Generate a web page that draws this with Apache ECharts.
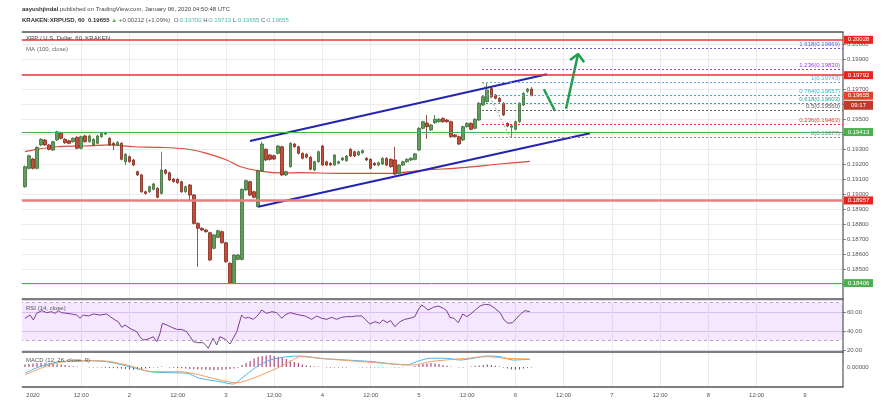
<!DOCTYPE html>
<html><head><meta charset="utf-8">
<script src="https://cdn.jsdelivr.net/npm/echarts@6/dist/echarts.min.js"></script>
<style>html,body{margin:0;padding:0;background:#fff}#c{width:895px;height:400px}</style>
</head><body><div id="c"></div>
<script>
// ---------- DATA ----------
const startHour = -2; // first hourly candle: Dec 31 22:00 (hours since Jan 1 00:00)
// [open, high, low, close]
const candles = [
[0.19049,0.19189,0.19042,0.19182],[0.19171,0.19262,0.19164,0.19255],[0.19233,0.19240,0.19164,0.19171],[0.19171,0.19318,0.19164,0.19311],
[0.19327,0.19372,0.19320,0.19365],[0.19360,0.19367,0.19320,0.19327],[0.19327,0.19334,0.19291,0.19298],[0.19293,0.19356,0.19286,0.19349],
[0.19360,0.19422,0.19353,0.19415],[0.19408,0.19415,0.19364,0.19371],[0.19365,0.19372,0.19335,0.19342],[0.19355,0.19362,0.19331,0.19338],
[0.19349,0.19378,0.19342,0.19371],[0.19378,0.19385,0.19298,0.19305],[0.19305,0.19389,0.19298,0.19382],[0.19387,0.19394,0.19342,0.19349],
[0.19349,0.19394,0.19342,0.19387],[0.19327,0.19372,0.19320,0.19365],[0.19338,0.19394,0.19331,0.19387],[0.19382,0.19413,0.19375,0.19405],
[0.19400,0.19416,0.19393,0.19409],[0.19371,0.19378,0.19320,0.19327],[0.19338,0.19345,0.19293,0.19327],[0.19327,0.19352,0.19320,0.19345],
[0.19338,0.19345,0.19224,0.19231],[0.19215,0.19272,0.19193,0.19265],[0.19249,0.19256,0.19208,0.19215],[0.19227,0.19234,0.19186,0.19193],
[0.19149,0.19156,0.19120,0.19127],[0.19127,0.19134,0.19008,0.19015],[0.19015,0.19022,0.18995,0.19004],[0.19015,0.19056,0.19008,0.19049],
[0.19031,0.19074,0.19024,0.19067],[0.19038,0.19045,0.18971,0.18978],[0.19004,0.19282,0.18997,0.19160],[0.19160,0.19167,0.19131,0.19138],
[0.19142,0.19149,0.19086,0.19093],[0.19100,0.19107,0.19075,0.19082],[0.19098,0.19105,0.19068,0.19075],[0.19082,0.19089,0.19008,0.19015],
[0.19015,0.19056,0.19008,0.19049],[0.19060,0.19067,0.18960,0.18993],[0.18993,0.19000,0.18797,0.18804],[0.18804,0.18811,0.18515,0.18771],
[0.18771,0.18778,0.18753,0.18760],[0.18760,0.18767,0.18742,0.18749],[0.18742,0.18749,0.18553,0.18560],[0.18638,0.18734,0.18631,0.18727],
[0.18711,0.18762,0.18704,0.18755],[0.18749,0.18756,0.18668,0.18675],[0.18675,0.18682,0.18542,0.18549],[0.18538,0.18545,0.18404,0.18404],
[0.18404,0.18600,0.18404,0.18593],[0.18564,0.18600,0.18557,0.18593],[0.18564,0.19038,0.18557,0.19031],[0.19027,0.19096,0.19020,0.19089],
[0.19082,0.19089,0.18986,0.18993],[0.19015,0.19022,0.18971,0.18978],[0.18915,0.19162,0.18915,0.19155],[0.19155,0.19349,0.19148,0.19333],
[0.19298,0.19305,0.19220,0.19227],[0.19260,0.19267,0.19224,0.19231],[0.19255,0.19262,0.19226,0.19233],[0.19271,0.19327,0.19264,0.19320],
[0.19315,0.19322,0.19120,0.19127],[0.19127,0.19156,0.19120,0.19149],[0.19182,0.19345,0.19175,0.19338],[0.19333,0.19340,0.19308,0.19315],
[0.19315,0.19322,0.19264,0.19271],[0.19271,0.19278,0.19231,0.19238],[0.19265,0.19272,0.19238,0.19245],[0.19245,0.19252,0.19158,0.19165],
[0.19160,0.19222,0.19153,0.19215],[0.19215,0.19289,0.19208,0.19282],[0.19320,0.19327,0.19186,0.19193],[0.19215,0.19222,0.19186,0.19193],
[0.19205,0.19212,0.19186,0.19193],[0.19193,0.19267,0.19186,0.19260],[0.19205,0.19222,0.19198,0.19215],[0.19227,0.19247,0.19220,0.19240],
[0.19222,0.19260,0.19215,0.19253],[0.19298,0.19305,0.19246,0.19253],[0.19282,0.19289,0.19246,0.19253],[0.19260,0.19289,0.19253,0.19282],
[0.19275,0.19296,0.19268,0.19289],[0.19238,0.19245,0.19220,0.19227],[0.19231,0.19238,0.19164,0.19171],[0.19205,0.19212,0.19186,0.19193],
[0.19193,0.19216,0.19186,0.19209],[0.19200,0.19245,0.19193,0.19238],[0.19238,0.19245,0.19186,0.19193],[0.19231,0.19238,0.19175,0.19182],
[0.19227,0.19315,0.19126,0.19133],[0.19138,0.19200,0.19131,0.19193],[0.19193,0.19222,0.19186,0.19215],[0.19215,0.19238,0.19208,0.19231],
[0.19227,0.19245,0.19220,0.19238],[0.19231,0.19274,0.19224,0.19267],[0.19293,0.19445,0.19286,0.19438],[0.19438,0.19489,0.19431,0.19482],
[0.19473,0.19527,0.19367,0.19449],[0.19427,0.19467,0.19420,0.19460],[0.19475,0.19527,0.19468,0.19498],[0.19482,0.19505,0.19475,0.19498],
[0.19504,0.19511,0.19475,0.19482],[0.19493,0.19500,0.19475,0.19482],[0.19482,0.19489,0.19375,0.19382],[0.19393,0.19400,0.19375,0.19382],
[0.19382,0.19389,0.19326,0.19333],[0.19360,0.19456,0.19353,0.19449],[0.19449,0.19478,0.19442,0.19471],[0.19471,0.19478,0.19424,0.19431],
[0.19438,0.19505,0.19431,0.19498],[0.19493,0.19612,0.19486,0.19605],[0.19593,0.19656,0.19586,0.19649],[0.19616,0.19743,0.19609,0.19693],
[0.19704,0.19711,0.19642,0.19649],[0.19660,0.19667,0.19631,0.19638],[0.19638,0.19645,0.19609,0.19616],[0.19605,0.19612,0.19520,0.19527],
[0.19471,0.19478,0.19446,0.19453],[0.19445,0.19462,0.19377,0.19455],[0.19431,0.19489,0.19424,0.19482],[0.19482,0.19612,0.19475,0.19605],
[0.19593,0.19678,0.19586,0.19671],[0.19685,0.19707,0.19671,0.19700],[0.19700,0.19713,0.19655,0.19655]
];
// MA(100) read at [hour, price]
const maPoints = [[-2,0.19282],[0.9,0.19298],[5.9,0.19315],[12.4,0.1932],[19.2,0.19327],[24.9,0.19315],[31.6,0.19311],[38.2,0.193],
[43.2,0.19271],[48.2,0.19227],[51.5,0.19183],[56.5,0.19153],[62.2,0.1914],[66.4,0.19142],[76.4,0.19138],[89.6,0.19138],[95.4,0.19155],
[107.9,0.19178],[116.1,0.192],[123.6,0.19217]];
// RSI(14) read at [hour, value]
const rsiPoints = [[-2,53.4],[-0.75,56.8],[0.1,51.6],[0.9,58.6],[2.2,61.4],[3.4,59.3],[4.6,60.3],[5.5,58.6],[6.3,61.4],[7.1,59.3],[8.4,58.6],
[9.6,57.9],[10.9,56.8],[11.7,53.4],[12.5,56.8],[13.8,55.8],[15,57.9],[16.7,56.8],[18.3,57.9],[19.2,55.1],[20.4,51.6],[21.2,49.8],[22.1,43.9],
[22.9,46.3],[24.1,42.8],[25.8,39.3],[26.6,34],[27.4,30.5],[28.3,31.2],[29.1,32.3],[29.9,34],[30.8,28.7],[31.6,37.6],[32.2,48.1],[33.3,46.3],
[34.5,43.9],[35.7,41.7],[37,41.7],[38.2,39.3],[39.1,34],[39.9,28.7],[41.1,27.7],[42.4,27.7],[43.6,21.8],[44.8,32.3],[45.7,25.3],[46.5,34],
[47.9,31.2],[49,26.3],[49.8,32.3],[50.7,39.3],[51.1,37.6],[51.9,56.8],[52.7,53.4],[53.6,54.4],[54.8,52.3],[56,56.8],[56.9,62.1],[58.1,58.6],
[59.4,60.3],[60.6,59.3],[61.9,53.4],[62.7,56.8],[63.9,59.3],[65.2,57.9],[66.4,56.8],[67.7,55.8],[69.3,52.3],[70.6,55.8],[71.8,53.4],[73.1,52.3],
[74.3,54.4],[75.5,52.3],[76.8,54.4],[78,55.1],[79.3,55.1],[80.5,55.8],[81.8,55.8],[82.8,51.6],[83.8,47.4],[85.1,49.8],[86.2,48.1],[87.1,51.6],
[88.1,48.8],[89,50.9],[90,44.6],[91.3,49.8],[92.5,52.3],[93.8,53.4],[95,55.1],[95.8,62.1],[96.7,67.4],[97.5,64.9],[98.3,62.1],[99.6,64.9],
[100.8,66.3],[102.1,63.9],[102.9,61.4],[103.7,54.4],[104.7,53.4],[105.8,48.8],[106.9,57.9],[107.9,55.1],[108.9,57.9],[110,62.1],[111.2,66.3],
[112.4,68.1],[113.7,67.4],[114.9,63.9],[116.2,59.3],[117.2,51.6],[118.2,48.1],[119.3,48.8],[120.3,53.4],[121.3,57.9],[122.4,61.4],[123.6,60.3]];
// MACD(12,26,9) read at [hour, value]
const macdPoints = [[-2,-0.000315],[1.7,0.000015],[6.7,0.000265],[12.4,0.000315],[18.4,0.000265],[23.4,0.00005],[29.1,-0.000235],[34.1,-0.000285],
[38.3,-0.000315],[41.5,-0.000565],[46.5,-0.000735],[49.8,-0.00085],[52.2,-0.000515],[55.7,0.000015],[59,0.00035],[63.2,0.000515],[66.4,0.00055],
[71.4,0.000435],[78,0.00035],[84.6,0.000265],[89.6,0.00015],[93,0.0001],[95.4,0.000265],[98.8,0.000435],[102.9,0.000435],[106.2,0.00035],
[109.5,0.000435],[112.9,0.00055],[116.2,0.000515],[119.4,0.00035],[123.6,0.000385]];
const signalPoints = [[-2,-0.0004],[4.2,0.0001],[10,0.000315],[16.7,0.000315],[23.4,0.0001],[29.9,-0.000235],[36.6,-0.000235],[41.5,-0.0004],
[46.5,-0.00065],[50.7,-0.000785],[54.7,-0.000565],[59.7,-0.00015],[64.7,0.00035],[66.4,0.000515],[73.9,0.000385],[82.1,0.000265],[89.6,0.00015],
[94.5,0.0001],[98.8,0.000265],[104.5,0.000385],[107.9,0.000435],[112.9,0.000515],[117.8,0.000435],[123.6,0.0004]];
// hourly histogram, same hours as candles
const histValues = [0.00012,0.00015,0.00018,0.0002,0.0002,
0.0002,0.00018,0.00016,0.00014,0.00012,0.0001,
0.00006,0.00004,0.00002,0,0,-0.00002,-0.00002,-0.00003,-0.00003,-0.00004,-0.00005,-0.00005,
-0.00006,-0.00008,-0.0001,-0.00012,-0.00014,-0.00012,-0.0001,-0.00008,-0.00005,-0.00003,-0.00002,
0.00002,0,-0.00002,-0.00004,-0.00005,-0.00006,-0.00008,-0.0001,
-0.00011,-0.00012,-0.00013,-0.00014,-0.00015,-0.00016,-0.00015,-0.00014,-0.00012,-0.0001,-0.00007,-0.00004,
0.0001,0.0002,0.0003,0.00042,0.0005,0.00055,0.00058,0.0006,0.00055,0.0005,0.00045,0.0004,0.00032,0.00025,0.0002,
0.00012,0.00008,0.00005,0.00003,0.00002,0,-0.00002,-0.00002,-0.00003,-0.00003,-0.00002,-0.00002,-0.00001,0,-0.00001,-0.00002,-0.00002,-0.00003,-0.00003,-0.00002,-0.00002,-0.00001,-0.00001,-0.00002,-0.00002,-0.00001,0,0,
0.00005,0.0001,0.00015,0.00018,0.0002,0.00018,0.00015,0.0001,0.00006,0.00003,0,-0.00002,-0.00003,
0,0.00003,0.00006,0.00008,0.0001,0.00012,0.0001,
0.00006,0.00002,-0.00003,-0.00008,-0.00012,-0.00014,-0.00012,-0.00008,-0.00004,-0.00002];
const tickLabels = ["2020","12:00","2","12:00","3","12:00","4","12:00","5","12:00","6","12:00","7","12:00","8","12:00","9"];
// horizontal levels with price tags
const hLevels = [
  {price:0.20028, color:'#e53935', width:1.5, tag:'#e8241f'},
  {price:0.19792, color:'#e53935', width:1.5, tag:'#e8241f'},
  {price:0.18957, color:'#e88080', width:2.5, tag:'#e8241f'},
  {price:0.19413, color:'#4caf50', width:1, tag:'#4caf50'},
  {price:0.18406, color:'#4caf50', width:1, tag:'#4caf50'}
];
const lastPrice = 0.19655, countdown = '09:17';
// fib retracement: [ratio, price, colour]
const fibStartHour = 111.7;
const fibLevels = [[1.618,0.19969,'#5b5bd6'],[1.236,0.19830,'#9c42c8'],[1,0.19743,'#64a8e8'],[0.764,0.19657,'#2fb5c9'],
  [0.618,0.19603,'#26a69a'],[0.5,0.19560,'#606060'],[0.236,0.19463,'#e53935'],[0,0.19377,'#8a8a8a']];
const fibTrend = [[111.9,0.19743],[118.7,0.19377]];
const channelUpper = [[53.98,0.193533],[127.86,0.19798]];
const channelLower = [[56.04,0.189153],[138.56,0.194047]];
const arrowDown = [[127.1,0.19698],[129.85,0.19553]];
const arrowUp = [[132.6,0.19569],[135.6,0.19933]];
const arrowHead = [[133.6,0.19893],[135.6,0.19933],[137.1,0.19878]];

// ---------- CHART ----------
const X_MIN = -3.23, X_MAX = 201.5;
const tickHours = tickLabels.map((_, i) => i * 12);
const FONT = 'Liberation Sans, Arial, sans-serif';
const chart = echarts.init(document.getElementById('c'));

function xAx(grid, opts) {
  return Object.assign({
    type:'value', gridIndex:grid, min:X_MIN, max:X_MAX,
    axisLine:{show:true, onZero:false, lineStyle:{color:'#555', width:1.5}},
    axisTick:{show:false, customValues:tickHours},
    axisLabel:{show:false, customValues:tickHours},
    splitLine:{show:true, showMinLine:false, showMaxLine:false, lineStyle:{color:'#ececec', width:1}}
  }, opts);
}

const candleData = candles.map((c, i) => [startHour + i, c[0], c[3], c[2], c[1]]);
const histData = histValues.map((v, i) => [startHour + i, v]);

const hLineMarks = hLevels.map(l => [
  {coord:[X_MIN, l.price], lineStyle:{color:l.color, width:l.width, type:'solid'}, label:{show:false}},
  {coord:[X_MAX, l.price]}
]);
const fibMarks = fibLevels.map(f => [
  {coord:[fibStartHour, f[1]], lineStyle:{color:f[2], type:[2,2], width:1},
   label:{show:true, position:'insideEndTop', distance:[3,1], formatter:f[0] + '(' + f[1].toFixed(5) + ')', color:f[2], fontSize:6, fontFamily:FONT}},
  {coord:[X_MAX, f[1]]}
]);
const tagMarks = hLevels.map(l => ({
  coord:[X_MAX, l.price], symbol:'rect', symbolSize:[29,8], symbolOffset:[15.5,0],
  itemStyle:{color:l.tag},
  label:{show:true, position:'inside', formatter:l.price.toFixed(5), color:'#fff', fontSize:6, fontFamily:FONT}
}));
tagMarks.push({coord:[X_MAX, lastPrice], symbol:'rect', symbolSize:[29,8], symbolOffset:[15.5,0], itemStyle:{color:'#e0452b'},
  label:{show:true, position:'inside', formatter:lastPrice.toFixed(5), color:'#fff', fontSize:6, fontFamily:FONT}});
tagMarks.push({coord:[X_MAX, lastPrice], symbol:'rect', symbolSize:[29,9], symbolOffset:[15.5,9.5], itemStyle:{color:'#c0392b'},
  label:{show:true, position:'inside', formatter:countdown, color:'#fff', fontSize:6, fontFamily:FONT}});

function seg(data, color, width, dash, grid) {
  return {type:'line', xAxisIndex:grid||0, yAxisIndex:grid||0, data, showSymbol:false, symbol:'none', silent:true,
    lineStyle:{color, width, type:dash||'solid'}, z:4};
}
const yLine = {show:false, onZero:false};
const gridBase = {left:20, right:52, show:false, borderWidth:0, containLabel:false};

const option = {
  animation:false,
  textStyle:{fontFamily:FONT},
  graphic:[
    {type:'line', shape:{x1:843, y1:32, x2:843, y2:387}, style:{stroke:'#555', lineWidth:1.2}, z:5},
    {type:'rect', shape:{x:0, y:28, width:21.8, height:364}, style:{fill:'#fff'}, z:100}
  ],
  title:[
    {text:'{b|aayushjindal} published on TradingView.com, January 06, 2020 04:50:48 UTC', left:22, top:6, padding:0,
     textStyle:{fontSize:6, color:'#444', fontWeight:'normal', rich:{b:{fontSize:6, fontWeight:'bold', color:'#333'}}}},
    {text:'{b|KRAKEN:XRPUSD, 60  0.19655} {g|▲} +0.00212 (+1.09%)  O:{t|0.19700} H:{t|0.19713} L:{t|0.19655} C:{t|0.19655}', left:22, top:17, padding:0,
     textStyle:{fontSize:6, color:'#555', fontWeight:'normal', rich:{b:{fontSize:6, fontWeight:'bold', color:'#333'}, g:{fontSize:6, color:'#4caf50'}, t:{fontSize:6, color:'#4db6ac'}}}},
    {text:'XRP / U.S. Dollar, 60, KRAKEN', left:26, top:35, padding:0, textStyle:{fontSize:6, color:'#444', fontWeight:'normal'}},
    {text:'MA (100, close)', left:26, top:46, padding:0, textStyle:{fontSize:6, color:'#666', fontWeight:'normal'}},
    {text:'RSI (14, close)', left:26, top:305, padding:0, textStyle:{fontSize:6, color:'#555', fontWeight:'normal'}},
    {text:'MACD (12, 26, close, 9)', left:26, top:357, padding:0, textStyle:{fontSize:6, color:'#555', fontWeight:'normal'}}
  ],
  grid:[
    Object.assign({top:32, height:267}, gridBase),
    Object.assign({top:300, height:50}, gridBase),
    Object.assign({top:352, height:35}, gridBase)
  ],
  xAxis:[
    xAx(0, {}),
    xAx(1, {offset:2}),
    xAx(2, {axisLabel:{show:true, customValues:tickHours, fontSize:6, color:'#555', margin:5,
      formatter:v => tickLabels[Math.round(v / 12)] || ''}}),
    xAx(0, {position:'top', splitLine:{show:false}})
  ],
  yAxis:[
    {type:'value', gridIndex:0, position:'right', min:0.183, max:0.2008, interval:0.001,
     axisLine:yLine, axisTick:{show:true, length:3, lineStyle:{color:'#888'}},
     axisLabel:{fontSize:6, color:'#555', margin:4, showMinLabel:false, showMaxLabel:false, formatter:v => v.toFixed(5)},
     splitLine:{lineStyle:{color:'#ececec'}}},
    {type:'value', gridIndex:1, position:'right', min:20, max:72.63, interval:20,
     axisLine:yLine, axisTick:{show:true, length:3, lineStyle:{color:'#888'}},
     axisLabel:{fontSize:6, color:'#555', margin:4, showMinLabel:true, showMaxLabel:false, formatter:v => v.toFixed(2)},
     splitLine:{lineStyle:{color:'#e2d2ef'}}},
    {type:'value', gridIndex:2, position:'right', min:-0.001, max:0.00075, interval:0.0005,
     axisLine:yLine, axisTick:{show:false},
     axisLabel:{fontSize:6, color:'#555', margin:4, formatter:v => Math.abs(v) < 1e-9 ? '0.00000' : ''},
     splitLine:{show:false}}
  ],
  series:[
    {type:'candlestick', xAxisIndex:0, yAxisIndex:0, data:candleData, barWidth:3, z:3,
     itemStyle:{color:'#5f9f5a', color0:'#c94a35', borderColor:'#3d6b38', borderColor0:'#7c2b1f', borderWidth:0.8}},
    {type:'line', xAxisIndex:0, yAxisIndex:0, data:maPoints, showSymbol:false, symbol:'none', smooth:0.3, silent:true,
     lineStyle:{color:'#e0463a', width:1.2}, z:2,
     markLine:{silent:true, symbol:['none','none'], animation:false, data:hLineMarks.concat(fibMarks)},
     markPoint:{silent:true, animation:false, data:tagMarks, z:10}},
    seg(fibTrend, '#9a9a9a', 1, [2,2]),
    seg(channelUpper, '#2424b0', 2),
    seg(channelLower, '#2424b0', 2),
    seg(arrowDown, '#1f9e4e', 2.5),
    seg(arrowUp, '#1f9e4e', 2.5),
    seg(arrowHead, '#1f9e4e', 2.5),
    {type:'line', xAxisIndex:1, yAxisIndex:1, data:rsiPoints, showSymbol:false, symbol:'none', silent:true,
     lineStyle:{color:'#7b3f8c', width:1}, z:4,
     markArea:{silent:true, itemStyle:{color:'rgba(153,21,255,0.10)'}, data:[[{yAxis:70},{yAxis:30}]]},
     markLine:{silent:true, symbol:['none','none'], label:{show:false}, lineStyle:{color:'#b8a8c4', type:[3,3], width:1},
       data:[{yAxis:70},{yAxis:30}]}},
    {type:'bar', xAxisIndex:2, yAxisIndex:2, data:histData, barWidth:1, silent:true, itemStyle:{color:'#9b2a68'}, z:2},
    {type:'line', xAxisIndex:2, yAxisIndex:2, data:macdPoints, showSymbol:false, symbol:'none', smooth:0.3, silent:true,
     lineStyle:{color:'#4fb3e8', width:1}, z:4},
    {type:'line', xAxisIndex:2, yAxisIndex:2, data:signalPoints, showSymbol:false, symbol:'none', smooth:0.3, silent:true,
     lineStyle:{color:'#f0a060', width:1}, z:4}
  ]
};
chart.setOption(option);
</script></body></html>
